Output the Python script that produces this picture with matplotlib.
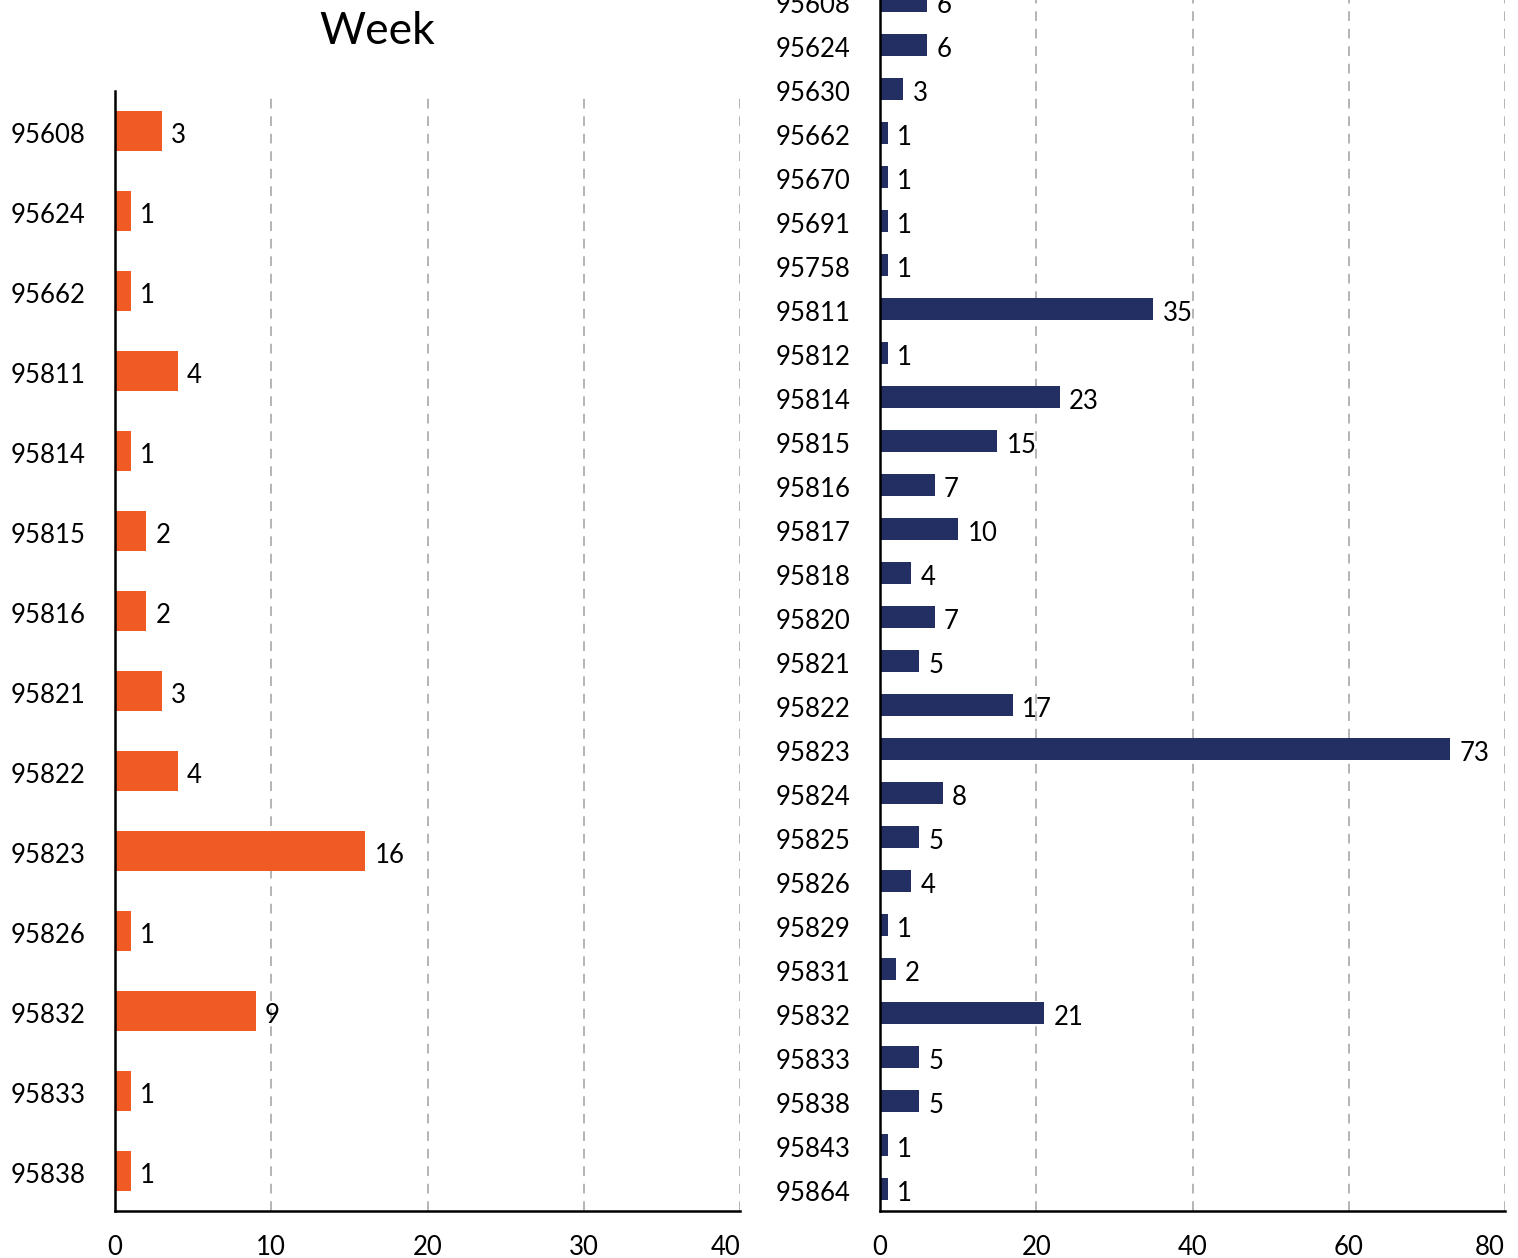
import matplotlib
matplotlib.use("Agg")
import matplotlib.pyplot as plt
import matplotlib.transforms as mtransforms

plt.rcParams["font.family"] = ["Lato", "DejaVu Sans"]

week_zips = ["95608", "95624", "95662", "95811", "95814", "95815", "95816",
             "95821", "95822", "95823", "95826", "95832", "95833", "95838"]
week_counts = [3, 1, 1, 4, 1, 2, 2, 3, 4, 16, 1, 9, 1, 1]

month_zips = ["95608", "95624", "95630", "95662", "95670", "95691", "95758",
              "95811", "95812", "95814", "95815", "95816", "95817", "95818",
              "95820", "95821", "95822", "95823", "95824", "95825", "95826",
              "95829", "95831", "95832", "95833", "95838", "95843", "95864"]
month_counts = [6, 6, 3, 1, 1, 1, 1, 35, 1, 23, 15, 7, 10, 4, 7, 5, 17, 73,
                8, 5, 4, 1, 2, 21, 5, 5, 1, 1]

W, H = 1518, 1258
FS = 18.5
fig = plt.figure(figsize=(W / 100, H / 100), dpi=100)
# nudge label text down a couple of pixels so it sits level with the bars
nudge = mtransforms.ScaledTranslation(0, -2 / 100, fig.dpi_scale_trans)


def px_axes(x0, x1, ytop, ybot):
    return fig.add_axes([x0 / W, (H - ybot) / H, (x1 - x0) / W, (ybot - ytop) / H])


def draw(ax, labels, values, color, xmax, step, label_off):
    y = list(range(len(labels)))
    ax.barh(y, values, height=0.5, color=color, zorder=3)
    for yi, v in zip(y, values):
        ax.text(v + label_off, yi, str(v), va="center_baseline", ha="left",
                fontsize=FS, transform=ax.transData + nudge)
    ax.set_yticks(y)
    ax.set_yticklabels(labels)
    ax.set_ylim(len(labels) - 0.5, -0.5)
    ax.set_xlim(0, xmax)
    ax.set_xticks(range(0, xmax + 1, step))
    ax.tick_params(axis="both", length=0, labelsize=FS)
    ax.tick_params(axis="y", pad=21)
    ax.tick_params(axis="x", pad=17)
    for lbl in ax.get_yticklabels():
        lbl.set_transform(lbl.get_transform() + nudge)
    # last tick label sits flush with the end of the axis
    ax.get_xticklabels()[-1].set_horizontalalignment("right")
    ax.xaxis.grid(True, color="#b4b4b4", linestyle=(0, (5, 4)), linewidth=1.4, zorder=0)
    for s in ("top", "right"):
        ax.spines[s].set_visible(False)
    for s in ("left", "bottom"):
        ax.spines[s].set_linewidth(1.8)
        ax.spines[s].set_zorder(4)


ax1 = px_axes(115, 740, 91, 1211)
draw(ax1, week_zips, week_counts, "#f05a24", 40, 10, 0.6)

ax2 = px_axes(880, 1505, 1211 - 28 * 44, 1211)
draw(ax2, month_zips, month_counts, "#232f63", 80, 20, 1.2)

fig.text(377 / W, 1 - 31 / H, "Week", ha="center", va="center", fontsize=32)

fig.savefig("out.png", dpi=100)
